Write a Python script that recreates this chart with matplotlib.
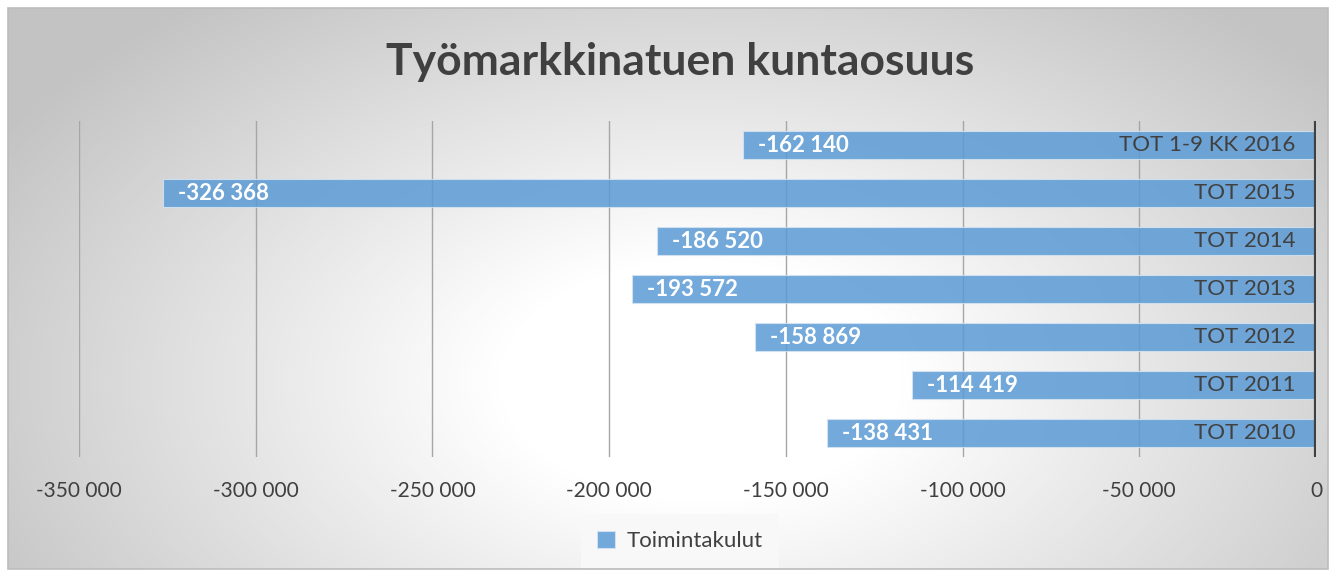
import numpy as np
import matplotlib
matplotlib.use("Agg")
import matplotlib.pyplot as plt
from matplotlib.patches import Rectangle

# ---- data ----
categories = ["TOT 2010", "TOT 2011", "TOT 2012", "TOT 2013", "TOT 2014", "TOT 2015", "TOT 1-9 KK 2016"]
values = [-138431, -114419, -158869, -193572, -186520, -326368, -162140]
xticks = [-350000, -300000, -250000, -200000, -150000, -100000, -50000, 0]
title = "Työmarkkinatuen kuntaosuus"
series_name = "Toimintakulut"

W, H = 1336, 577
plt.rcParams['font.family'] = ['Lato', 'DejaVu Sans']
fig = plt.figure(figsize=(W / 100, H / 100), dpi=100)
fig.patch.set_facecolor("white")

# background gradient
bg = fig.add_axes([0, 0, 1, 1])
bg.set_xlim(0, W)
bg.set_ylim(H, 0)
bg.axis("off")
x0, x1, y0, y1 = 8, 1328, 8, 569
xx, yy = np.meshgrid(np.arange(x0, x1), np.arange(y0, y1))
cx, cy, rx, ry = 700, 380, 720, 430
t = np.sqrt(((xx - cx) / rx) ** 2 + ((yy - cy) / ry) ** 2)
t = np.clip((t - 0.28) / 0.85, 0, 1)
v = (255 - 60 * t) / 255.0
img = np.dstack([v, v, v])
bg.imshow(img, extent=(x0, x1, y1, y0), interpolation="bilinear", aspect="auto", zorder=0)
bg.add_patch(Rectangle((x0, y0), x1 - x0, y1 - y0, fill=False, edgecolor="#bcbcbc", lw=1.2, zorder=1))

# main axes
left, right = 79 / W, 1316 / W
top, bottom = 121 / H, 457 / H
ax = fig.add_axes([left, 1 - bottom, right - left, bottom - top])
ax.set_facecolor("none")
ypos = np.arange(len(categories))
bars = ax.barh(ypos, values, height=0.6, color="#5b9bd5", alpha=0.85, edgecolor="#d6e4f3", linewidth=0.8,
               zorder=3, label=series_name)
ax.set_xlim(-350000, 0)
ax.set_ylim(-0.5, len(categories) - 0.5)
ax.set_xticks(xticks)
ax.set_xticklabels([f"{x:,}".replace(",", " ") for x in xticks], color="#404040", fontsize=15)
ax.tick_params(axis="x", length=0, pad=17)
ax.set_yticks([])
for s in ax.spines.values():
    s.set_visible(False)
ax.grid(axis="x", color="#a6a6a6", lw=1, zorder=1)
ax.axvline(0, color="#404040", lw=3, zorder=5)

for yv, val, cat in zip(ypos, values, categories):
    ax.annotate(f"{val:,}".replace(",", " "), xy=(val, yv), xytext=(11, 0), textcoords="offset points",
                ha="left", va="center", color="white", fontsize=16, fontweight="bold", zorder=6)
    ax.annotate(cat, xy=(0, yv), xytext=(-15, 0), textcoords="offset points",
                ha="right", va="center", color="#404040", fontsize=16, zorder=6)

fig.text(680 / W, 1 - 62 / H, title, ha="center", va="center", fontsize=32, fontweight="bold", color="#404040")

leg = fig.legend(handles=[bars], labels=[series_name], loc="center", bbox_to_anchor=(680 / W, 1 - 541 / H),
                 frameon=True, fontsize=16, handlelength=0.8, handleheight=0.8, handletextpad=0.5,
                 borderpad=0.75, borderaxespad=0, fancybox=False)
leg.get_frame().set_facecolor("#f8f8f8")
leg.get_frame().set_edgecolor("none")
leg.get_frame().set_alpha(1)
for txt in leg.get_texts():
    txt.set_color("#404040")

fig.savefig("out.png", dpi=100)
